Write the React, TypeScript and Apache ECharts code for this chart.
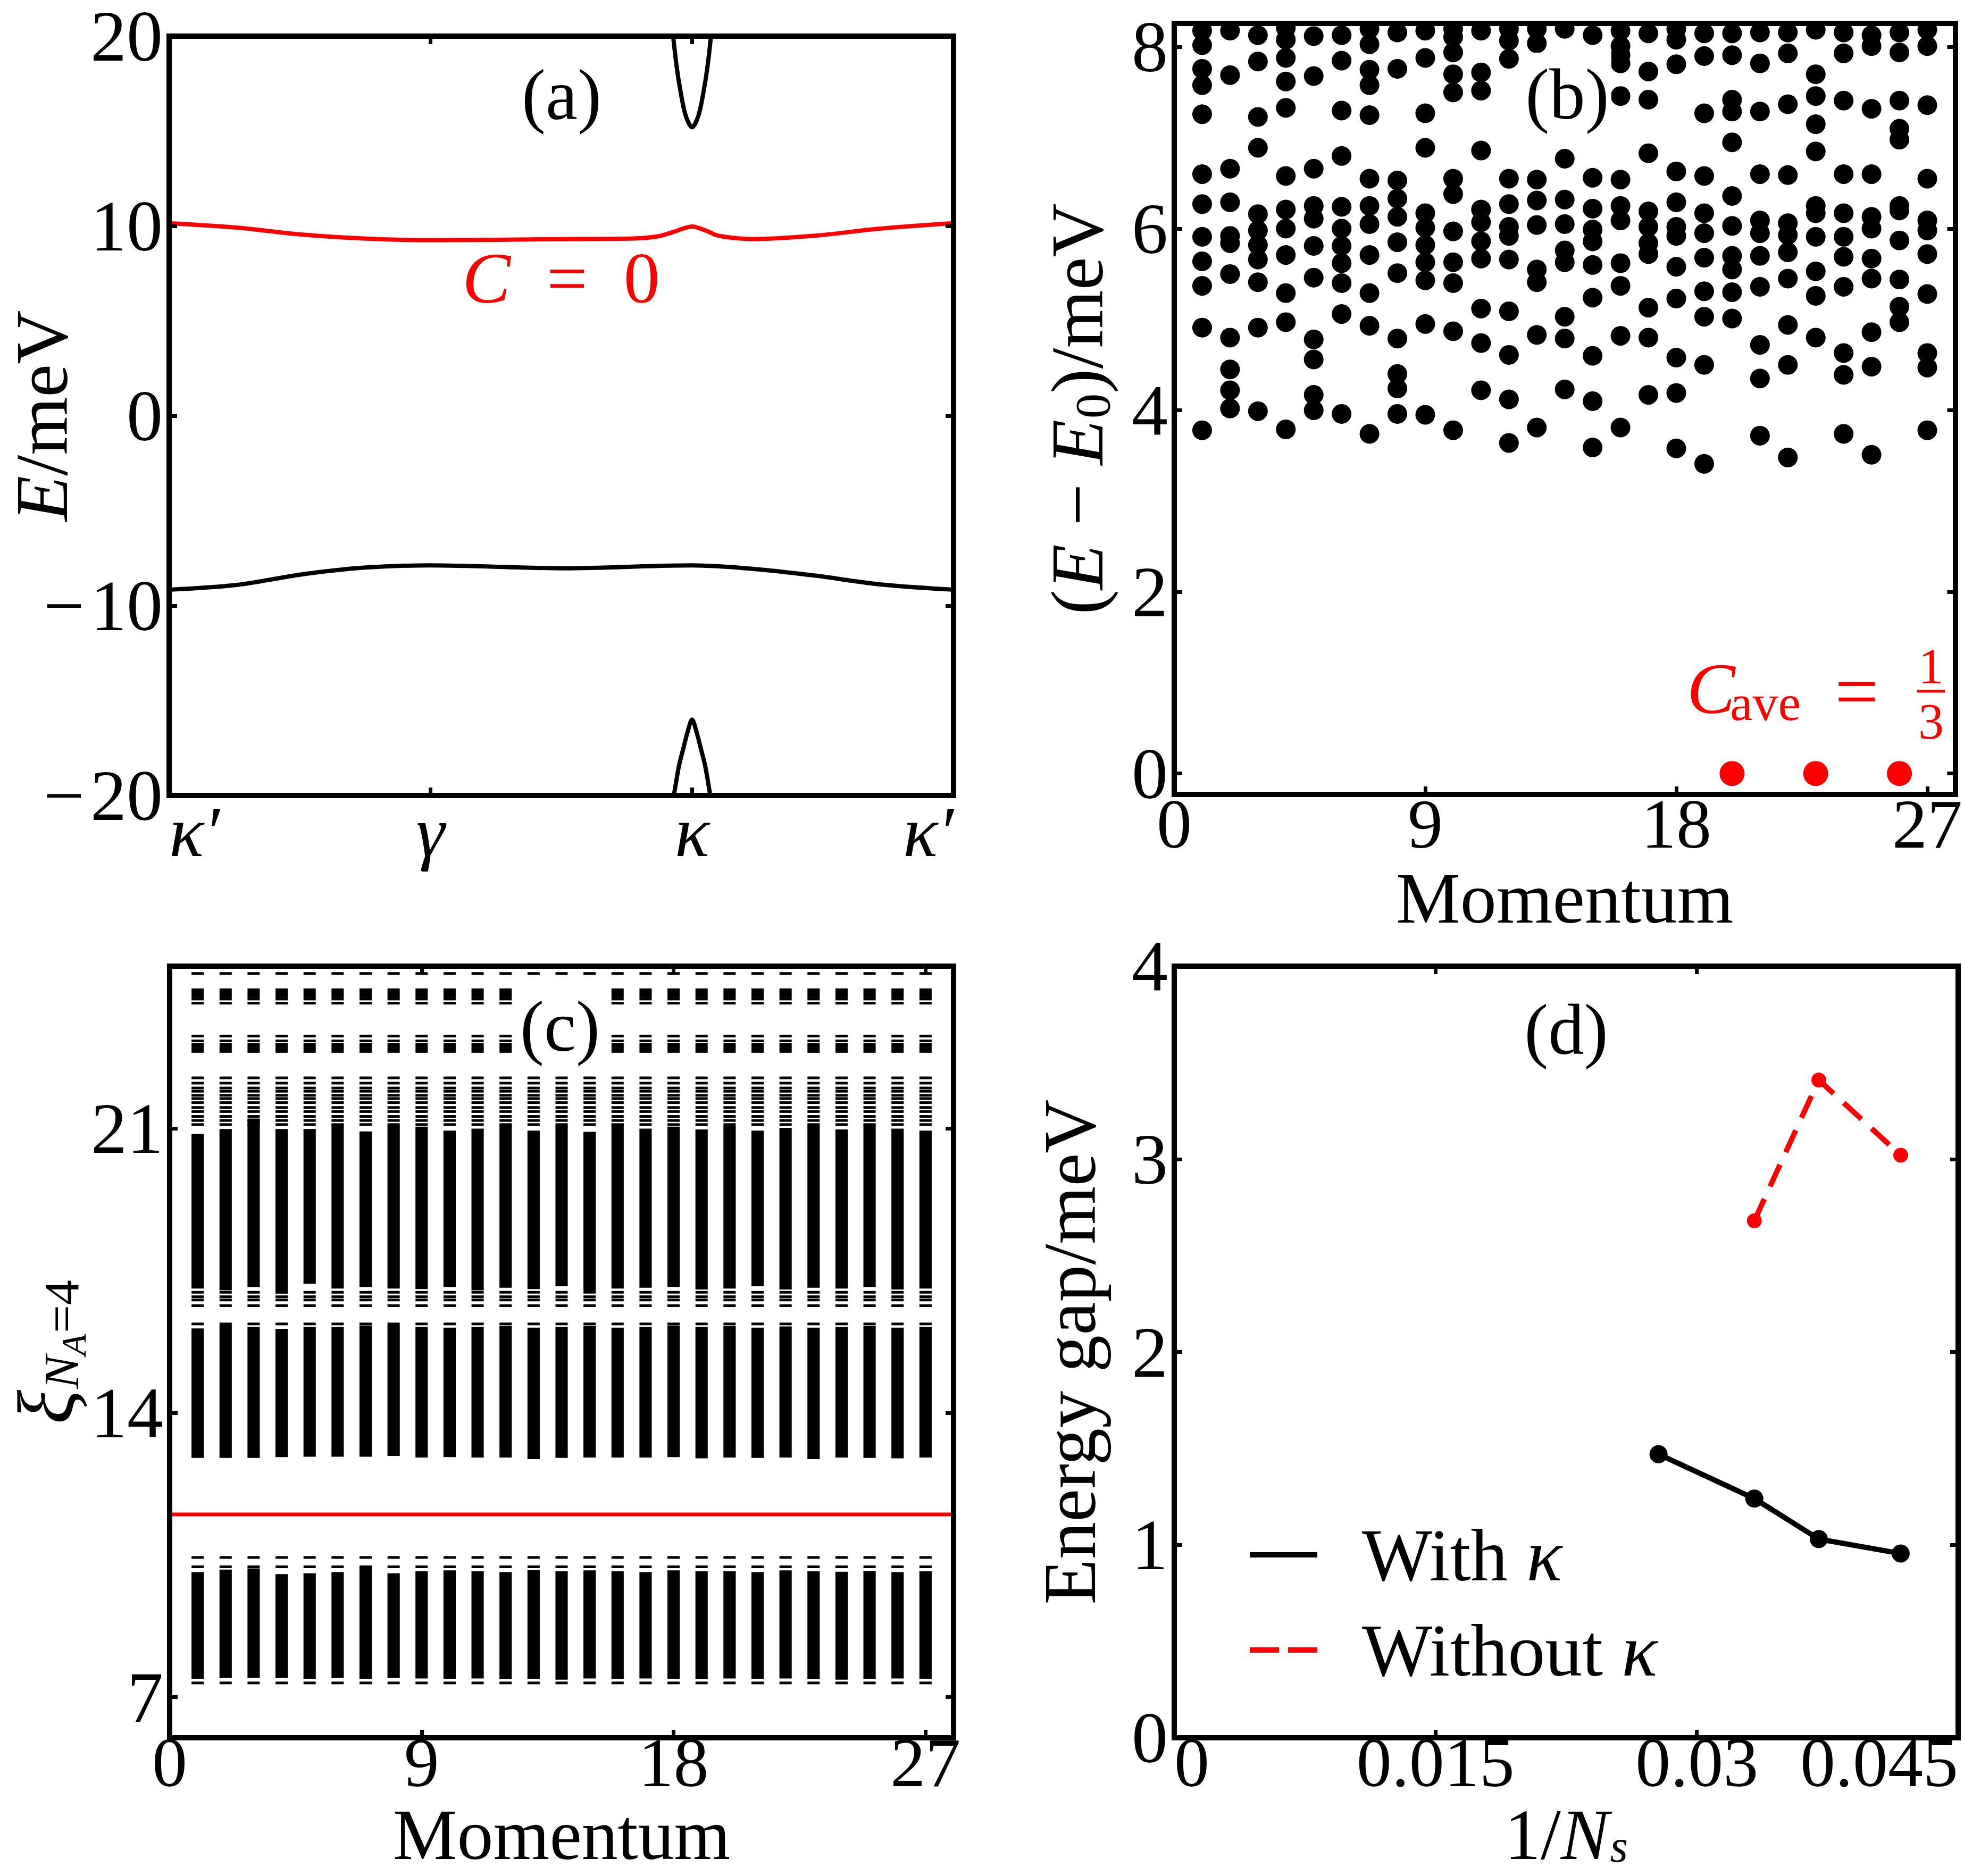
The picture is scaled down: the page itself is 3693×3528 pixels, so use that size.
import React, { useEffect, useRef } from 'react';
import * as echarts from 'echarts';

const FONT = "'Liberation Serif', 'Times New Roman', serif";
const TICK_FS = 136;
const XTICK_FS = 132;
const NAME_FS = 140;
const XNAME_FS = 136;
const RED = '#ff0000';

// ---------------- Panel (a): single-particle bands ----------------
const A_X_TICK_LABELS = ['κ′', 'γ', 'κ', 'κ′'];
const A_X_TICKS = [0, 1, 2, 3];
const A_Y_TICKS = [-20, -10, 0, 10, 20];
const A_RED_X = [0, 0.264, 0.504, 0.744, 1.0, 1.512, 1.776, 1.872, 1.932, 2.0, 2.052, 2.1, 2.16, 2.232, 2.472, 2.712, 3.0];
const A_RED_Y = [10.15, 9.91, 9.55, 9.34, 9.25, 9.31, 9.34, 9.46, 9.7, 9.97, 9.76, 9.49, 9.37, 9.31, 9.49, 9.85, 10.15];
const A_BLACK_X = [0, 0.264, 0.504, 0.744, 1.0, 1.512, 2.0, 2.232, 2.472, 2.712, 3.0];
const A_BLACK_Y = [-9.16, -8.9, -8.36, -8.0, -7.88, -8.03, -7.88, -8.06, -8.42, -8.87, -9.16];
const A_UP_X = [1.92, 1.94, 1.957, 1.976, 2.0, 2.024, 2.043, 2.06, 2.08];
const A_UP_Y = [21.0, 18.5, 17.0, 15.8, 15.2, 15.8, 17.0, 18.5, 21.0];
const A_LO_X = [1.919, 1.949, 1.967, 1.982, 2.0, 2.018, 2.033, 2.051, 2.081];
const A_LO_Y = [-21.0, -18.5, -17.5, -16.7, -16.0, -16.7, -17.5, -18.5, -21.0];

// ---------------- Panel (b): many-body spectrum ----------------
const B_MOMENTA = [1, 2, 3, 4, 5, 6, 7, 8, 9, 10, 11, 12, 13, 14, 15, 16, 17, 18, 19, 20, 21, 22, 23, 24, 25, 26, 27];
const B_LEVELS: number[][] = [
  [8.18, 8.02, 7.76, 7.58, 7.26, 6.6, 6.27, 5.91, 5.64, 5.37, 4.91, 3.78],
  [8.18, 7.69, 6.66, 6.29, 5.92, 5.84, 5.5, 4.8, 4.45, 4.22, 4.02],
  [8.13, 7.84, 7.23, 6.89, 6.16, 5.98, 5.82, 5.66, 5.41, 4.91, 3.99],
  [8.21, 8.08, 7.88, 7.62, 7.33, 6.58, 6.21, 6.0, 5.71, 5.29, 4.97, 3.79],
  [8.12, 7.68, 6.66, 6.25, 6.11, 5.81, 5.46, 4.78, 4.56, 4.17, 4.0],
  [8.13, 7.85, 7.3, 6.8, 6.24, 6.0, 5.81, 5.62, 5.4, 5.06, 3.96],
  [8.2, 8.03, 7.75, 7.58, 7.25, 6.55, 6.25, 6.05, 5.71, 5.29, 4.93, 3.74],
  [8.16, 7.76, 6.53, 6.33, 6.13, 5.85, 5.51, 4.79, 4.4, 4.24, 3.96],
  [8.18, 7.88, 7.27, 6.89, 6.17, 6.01, 5.82, 5.63, 5.43, 4.95, 3.95],
  [8.2, 8.11, 7.94, 7.7, 7.5, 6.55, 6.38, 5.97, 5.63, 5.4, 4.87, 3.78],
  [8.18, 7.72, 7.52, 6.86, 6.21, 6.07, 5.86, 5.67, 5.12, 4.74, 4.22],
  [8.2, 8.07, 7.87, 6.55, 6.27, 6.02, 5.92, 5.66, 5.09, 4.61, 4.12, 3.64],
  [8.2, 8.04, 6.54, 6.31, 6.04, 5.55, 5.41, 4.83, 3.81],
  [8.2, 6.77, 6.32, 6.05, 5.76, 5.63, 5.03, 4.79, 4.23],
  [8.13, 6.56, 6.22, 5.99, 5.86, 5.6, 5.24, 4.6, 4.1, 3.59],
  [8.18, 8.01, 7.91, 7.82, 7.46, 6.54, 6.25, 6.09, 5.62, 5.37, 4.82, 3.81],
  [8.15, 7.73, 7.42, 6.83, 6.19, 6.02, 5.84, 5.72, 5.13, 4.8, 4.17],
  [8.2, 8.08, 7.81, 6.63, 6.29, 6.02, 5.92, 5.58, 5.23, 4.58, 4.19, 3.58],
  [8.15, 7.9, 7.27, 6.58, 6.17, 5.95, 5.68, 5.31, 5.03, 4.5, 3.41],
  [8.15, 7.91, 7.42, 7.29, 6.95, 6.36, 6.03, 5.7, 5.55, 5.3, 5.01],
  [8.16, 7.82, 7.29, 6.6, 6.09, 5.95, 5.7, 5.36, 4.72, 4.35, 3.72],
  [8.16, 7.93, 7.37, 6.59, 6.06, 5.93, 5.74, 5.45, 4.94, 4.5, 3.48],
  [8.19, 7.7, 7.46, 7.15, 6.85, 6.25, 6.17, 5.91, 5.53, 5.26, 4.8],
  [8.16, 7.93, 7.41, 6.6, 6.17, 5.91, 5.69, 5.36, 4.63, 4.39, 3.74],
  [8.13, 8.01, 7.32, 6.6, 6.13, 6.0, 5.67, 5.45, 4.86, 4.48, 3.51],
  [8.16, 7.94, 7.41, 7.1, 6.98, 6.25, 6.2, 5.87, 5.44, 5.14, 4.97],
  [8.19, 8.01, 7.36, 6.55, 6.09, 5.98, 5.72, 5.28, 4.63, 4.47, 3.78],
];
const B_GROUND_MOMENTA = [20, 23, 26];
const B_GROUND_ENERGY = [0, 0, 0];
const B_X_TICKS = [0, 9, 18, 27];
const B_Y_TICKS = [0, 2, 4, 6, 8];

// ---------------- Panel (c): entanglement spectrum ----------------
const C_MOMENTA = B_MOMENTA;
const C_LOW_BOTTOM = [7.45, 7.47, 7.47, 7.47, 7.45, 7.47, 7.45, 7.47, 7.46, 7.45, 7.46, 7.44, 7.45, 7.43, 7.46, 7.45, 7.46, 7.45, 7.44, 7.46, 7.45, 7.46, 7.44, 7.43, 7.45, 7.46, 7.45];
const C_LOW_TOP = [10.08, 10.14, 10.17, 10.03, 10.05, 10.08, 10.23, 10.05, 10.1, 10.12, 10.1, 10.08, 10.13, 10.1, 10.12, 10.1, 10.08, 10.12, 10.1, 10.1, 10.08, 10.12, 10.1, 10.09, 10.11, 10.08, 10.1];
const C_MID_BOTTOM = [12.89, 12.89, 12.89, 12.91, 12.92, 12.92, 12.92, 12.94, 12.9, 12.91, 12.9, 12.9, 12.86, 12.89, 12.9, 12.9, 12.9, 12.91, 12.88, 12.9, 12.89, 12.9, 12.86, 12.9, 12.89, 12.88, 12.9];
const C_MID_TOP = [16.08, 16.16, 16.12, 16.07, 16.12, 16.12, 16.15, 16.16, 16.12, 16.1, 16.12, 16.14, 16.1, 16.12, 16.14, 16.1, 16.12, 16.15, 16.12, 16.14, 16.1, 16.13, 16.1, 16.12, 16.14, 16.1, 16.12];
const C_UP_BOTTOM = [17.06, 17.02, 17.1, 16.94, 17.18, 17.06, 17.1, 17.06, 17.05, 17.1, 17.02, 17.08, 17.05, 17.12, 17.0, 17.06, 17.08, 17.1, 17.04, 17.06, 17.12, 17.04, 17.08, 17.06, 17.1, 17.04, 17.06];
const C_UP_TOP = [20.87, 20.99, 21.25, 20.99, 20.99, 21.11, 20.93, 21.08, 21.05, 20.95, 21.0, 21.1, 20.95, 21.08, 20.92, 21.12, 21.0, 21.05, 20.98, 21.06, 20.95, 21.02, 21.08, 20.98, 21.1, 21.0, 20.95];
const C_DASH_LEVELS = [
  7.35, 10.21, 10.44, 16.19,
  16.64, 16.78, 16.86, 16.97,
  21.1, 21.2, 21.3, 21.42, 21.52, 21.64, 21.74, 21.82, 21.92, 22.0, 22.12, 22.25,
  22.9, 22.96, 23.02, 23.08, 23.16, 23.28,
  24.09, 24.19, 24.25, 24.31, 24.36, 24.42, 24.82,
];
const C_GAP_LINE = 11.5;
const C_Y_TICKS = [7, 14, 21];

// ---------------- Panel (d): gap vs 1/Ns ----------------
const D_WITH_X = [0.0278, 0.0333, 0.037, 0.0417];
const D_WITH_Y = [1.47, 1.24, 1.03, 0.955];
const D_WITHOUT_X = [0.0333, 0.037, 0.0417];
const D_WITHOUT_Y = [2.68, 3.41, 3.02];
const D_X_TICKS = [0, 0.015, 0.03, 0.045];
const D_Y_TICKS = [0, 1, 2, 3, 4];

const zip = (xs: number[], ys: number[]) => xs.map((x, i) => [x, ys[i]]);

const LH = 110;
const makeRich = (fs: number) => ({
  i: { fontStyle: 'italic', fontSize: fs, fontFamily: FONT, lineHeight: LH, color: '#000' },
  sub: { fontSize: 94, fontFamily: FONT, lineHeight: 50, padding: [58, 0, 0, 2], color: '#000' },
  subi: { fontStyle: 'italic', fontSize: 94, fontFamily: FONT, lineHeight: 50, padding: [58, 0, 0, 2], color: '#000' },
  subs: { fontStyle: 'italic', fontSize: 86, fontFamily: FONT, lineHeight: 60, padding: [44, 0, 0, 2], color: '#000' },
  subsub: { fontStyle: 'italic', fontSize: 66, fontFamily: FONT, lineHeight: 1, padding: [104, 0, 0, 0], color: '#000' },
  xi: { fontStyle: 'italic', fontSize: 150, fontFamily: FONT, lineHeight: LH, color: '#000' },
});
const nameStyle = { fontSize: NAME_FS, fontFamily: FONT, color: '#000', lineHeight: LH, rich: makeRich(NAME_FS) };
const nameStyleX = { fontSize: XNAME_FS, fontFamily: FONT, color: '#000', lineHeight: LH, rich: makeRich(XNAME_FS) };

const tick = (values: number[]) => ({
  show: true, inside: true, length: 15, customValues: values,
  lineStyle: { color: '#000', width: 7 },
});
const label = (values: number[], extra: any = {}) => ({
  show: true, color: '#000', fontSize: TICK_FS, fontFamily: FONT, margin: 12, lineHeight: 80,
  customValues: values, ...extra,
});
const frameLine = { show: true, onZero: false, lineStyle: { color: '#000', width: 10, cap: 'square' } };

function axisPair(kind: 'x' | 'y', gridIndex: number, min: number, max: number, ticks: number[], main: any) {
  const first = {
    type: 'value', gridIndex, min, max, z: 5,
    position: kind === 'x' ? 'bottom' : 'left',
    axisLine: frameLine, splitLine: { show: false },
    axisTick: tick(ticks), nameMoveOverlap: false,
    ...main,
  };
  const mirror = {
    type: 'value', gridIndex, min, max, z: 5,
    position: kind === 'x' ? 'top' : 'right',
    axisLine: frameLine, splitLine: { show: false },
    axisTick: tick(ticks), axisLabel: { show: false },
  };
  return [first, mirror];
}

const minus = (v: number) => (v < 0 ? '−\u200A' + String(-v) : String(v));

const grids = [
  { left: 318, top: 44, width: 1475, height: 1452 },
  { left: 2208, top: 44, width: 1471, height: 1450 },
  { left: 318, top: 1817, width: 1475, height: 1451 },
  { left: 2208, top: 1817, width: 1474, height: 1451 },
].map((g) => ({ ...g, show: false }));

const xAxes = [
  ...axisPair('x', 0, 0, 3, A_X_TICKS, {
    axisLabel: label(A_X_TICKS, {
      fontStyle: 'italic', alignMinLabel: 'left', alignMaxLabel: 'right', margin: 28,
      formatter: (v: number) => A_X_TICK_LABELS[Math.round(v)],
    }),
  }),
  ...axisPair('x', 1, 0, 28, B_X_TICKS, {
    axisLabel: label(B_X_TICKS, { margin: 15, fontSize: XTICK_FS }),
    name: 'Momentum', nameLocation: 'middle', nameGap: 140, nameTextStyle: nameStyleX,
  }),
  ...axisPair('x', 2, 0, 28, B_X_TICKS, {
    axisLabel: label(B_X_TICKS, { margin: 6, fontSize: XTICK_FS }),
    name: 'Momentum', nameLocation: 'middle', nameGap: 127, nameTextStyle: nameStyleX,
  }),
  ...axisPair('x', 3, 0, 0.045, D_X_TICKS, {
    axisLabel: label(D_X_TICKS, {
      margin: 6, fontSize: XTICK_FS, alignMinLabel: 'left', alignMaxLabel: 'right',
      formatter: (v: number) => (v === 0 ? '0' : String(+v.toFixed(3))),
    }),
    name: '1/{i|N}{subs|s}', nameLocation: 'middle', nameGap: 127, nameTextStyle: nameStyleX,
  }),
];

const yAxes = [
  ...axisPair('y', 0, -20, 20, A_Y_TICKS, {
    axisLabel: label(A_Y_TICKS, { formatter: minus }),
    name: '{i|E}/meV', nameLocation: 'middle', nameGap: 185, nameTextStyle: nameStyle,
  }),
  ...axisPair('y', 1, -0.23, 8.26, B_Y_TICKS, {
    axisLabel: label(B_Y_TICKS),
    name: '({i|E} − {i|E}{sub|0})/meV', nameLocation: 'middle', nameGap: 128, nameTextStyle: nameStyle,
  }),
  ...axisPair('y', 2, 6, 25, C_Y_TICKS, {
    axisLabel: label(C_Y_TICKS),
    name: '{xi|ξ}{subi|N}{subsub|A}{sub|=4}', nameLocation: 'middle', nameGap: 178, nameTextStyle: nameStyle,
  }),
  ...axisPair('y', 3, 0, 4, D_Y_TICKS, {
    axisLabel: label(D_Y_TICKS),
    name: 'Energy gap/meV', nameLocation: 'middle', nameGap: 142, nameTextStyle: nameStyle,
  }),
];

const bScatter = B_LEVELS.flatMap((col, i) => col.map((v) => [B_MOMENTA[i], v]));
const cBands: number[][] = [];
C_MOMENTA.forEach((m, i) => {
  cBands.push([m, C_LOW_BOTTOM[i], C_LOW_TOP[i]]);
  cBands.push([m, C_MID_BOTTOM[i], C_MID_TOP[i]]);
  cBands.push([m, C_UP_BOTTOM[i], C_UP_TOP[i]]);
});
const cDashes = C_MOMENTA.flatMap((m) => C_DASH_LEVELS.map((v) => [m, v]));

const lineSeries = (x: number, y: number, data: number[][], color: string, width: number) => ({
  type: 'line', xAxisIndex: x, yAxisIndex: y, data, symbol: 'none', smooth: 0.3,
  lineStyle: { color, width }, silent: true, clip: true,
});

const dot = (color: string) => ({ color, opacity: 1 });

const series: any[] = [
  lineSeries(0, 0, zip(A_RED_X, A_RED_Y), RED, 8),
  lineSeries(0, 0, zip(A_BLACK_X, A_BLACK_Y), '#000', 8),
  lineSeries(0, 0, zip(A_UP_X, A_UP_Y), '#000', 8),
  lineSeries(0, 0, zip(A_LO_X, A_LO_Y), '#000', 8),
  {
    type: 'scatter', xAxisIndex: 2, yAxisIndex: 2, data: bScatter,
    symbol: 'circle', symbolSize: 37, itemStyle: dot('#000'), silent: true,
  },
  {
    type: 'scatter', xAxisIndex: 2, yAxisIndex: 2, data: zip(B_GROUND_MOMENTA, B_GROUND_ENERGY),
    symbol: 'circle', symbolSize: 47, itemStyle: dot(RED), silent: true,
  },
  {
    type: 'custom', xAxisIndex: 4, yAxisIndex: 4, data: cBands, silent: true, clip: true,
    renderItem: (_p: any, api: any) => {
      const m = api.value(0);
      const top = api.coord([m, api.value(2)]);
      const bot = api.coord([m, api.value(1)]);
      const w = api.size([0.44, 0])[0];
      return {
        type: 'rect',
        shape: { x: top[0] - w / 2, y: top[1], width: w, height: bot[1] - top[1] },
        style: { fill: '#000' },
      };
    },
  },
  {
    type: 'scatter', xAxisIndex: 4, yAxisIndex: 4, data: cDashes,
    symbol: 'rect', symbolSize: [23, 5], itemStyle: dot('#000'), silent: true,
  },
  {
    type: 'line', xAxisIndex: 4, yAxisIndex: 4, data: [[0, C_GAP_LINE], [28, C_GAP_LINE]],
    symbol: 'none', lineStyle: { color: RED, width: 7 }, silent: true,
  },
  {
    name: 'With κ', type: 'line', xAxisIndex: 6, yAxisIndex: 6, data: zip(D_WITH_X, D_WITH_Y),
    symbol: 'none', lineStyle: { color: '#000', width: 10 }, itemStyle: dot('#000'), silent: true,
  },
  {
    name: 'Without κ', type: 'line', xAxisIndex: 6, yAxisIndex: 6, data: zip(D_WITHOUT_X, D_WITHOUT_Y),
    symbol: 'none', lineStyle: { color: RED, width: 10, type: [45, 26] }, itemStyle: dot(RED), silent: true,
  },
  {
    type: 'scatter', xAxisIndex: 6, yAxisIndex: 6, data: zip(D_WITH_X, D_WITH_Y),
    symbol: 'circle', symbolSize: 34, itemStyle: dot('#000'), silent: true,
  },
  {
    type: 'scatter', xAxisIndex: 6, yAxisIndex: 6, data: zip(D_WITHOUT_X, D_WITHOUT_Y),
    symbol: 'circle', symbolSize: 28, itemStyle: dot(RED), silent: true,
  },
];

const panelLabel = (text: string, x: number, y: number) => ({
  type: 'text', z: 100, x, y,
  style: {
    text, fontSize: 135, fontFamily: FONT, fill: '#000',
    align: 'center', verticalAlign: 'middle', textAlign: 'center', textVerticalAlign: 'middle',
    backgroundColor: '#fff', padding: [8, 4], lineHeight: 140,
  },
});
const plainText = (text: string, x: number, y: number, fontSize: number, extra: any = {}) => ({
  type: 'text', z: 100, x, y,
  style: {
    text, fontSize, fontFamily: FONT, fill: RED,
    align: 'left', verticalAlign: 'middle', textAlign: 'left', textVerticalAlign: 'middle', ...extra,
  },
});

const graphic = [
  // white mask so that the dots of (b) are cut at the upper frame like in a clipped plot
  {
    type: 'rect', z: 4, silent: true,
    shape: { x: 2214, y: 0, width: 1460, height: 44 },
    style: { fill: '#fff' },
  },
  panelLabel('(a)', 1056, 178),
  panelLabel('(b)', 2947, 177),
  panelLabel('(c)', 1053, 1930),
  panelLabel('(d)', 2945, 1936),
  {
    type: 'text', z: 100, x: 1055, y: 523,
    style: {
      text: '{i|C}  =  0', fontSize: 136, fontFamily: FONT, fill: RED,
      align: 'center', verticalAlign: 'middle', textAlign: 'center', textVerticalAlign: 'middle',
      rich: { i: { fontStyle: 'italic', fontSize: 136, fontFamily: FONT, fill: RED, color: RED } },
    },
  },
  plainText('C', 3172, 1295, 136, { fontStyle: 'italic' }),
  plainText('ave', 3253, 1321, 96),
  plainText('=', 3450, 1300, 146),
  plainText('1', 3631, 1252, 96, { align: 'center', textAlign: 'center' }),
  plainText('3', 3631, 1356, 96, { align: 'center', textAlign: 'center' }),
  {
    type: 'line', z: 100,
    shape: { x1: 3605, y1: 1300, x2: 3657, y2: 1300 },
    style: { stroke: RED, lineWidth: 5 },
  },
];

const option: any = {
  animation: false,
  backgroundColor: '#fff',
  grid: grids,
  xAxis: xAxes,
  yAxis: yAxes,
  series,
  graphic,
  legend: {
    show: true,
    data: [
      { name: 'With κ', icon: 'rect' },
      { name: 'Without κ', icon: 'path://M0,0H55V10H0Z M72,0H127V10H72Z' },
    ],
    orient: 'vertical',
    left: 2345, top: 2849,
    itemWidth: 127, itemHeight: 10, itemGap: 39,
    selectedMode: false,
    textStyle: {
      fontSize: NAME_FS, fontFamily: FONT, color: '#000', lineHeight: 140,
      rich: {
        sp: { width: 79 },
        k: { fontStyle: 'italic', fontSize: NAME_FS, fontFamily: FONT, color: '#000', lineHeight: 140 },
      },
    },
    formatter: (name: string) => '{sp|}' + name.replace('κ', '{k|κ}'),
  },
};

export default function App() {
  const ref = useRef<HTMLDivElement>(null);
  useEffect(() => {
    const chart = echarts.init(ref.current!, null, { renderer: 'svg', width: 3693, height: 3528 });
    chart.setOption(option);
    return () => chart.dispose();
  }, []);
  return (
    <div
      ref={ref}
      style={{ position: 'absolute', left: 0, top: 0, width: 3693, height: 3528, background: '#fff' }}
    />
  );
}
